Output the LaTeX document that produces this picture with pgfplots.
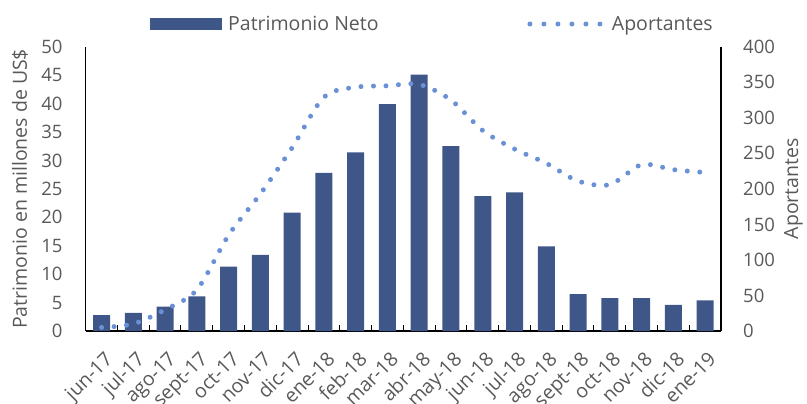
\documentclass[border=0pt]{standalone}
\usepackage{pgfplots}
\pgfplotsset{compat=1.18}
\usepackage{pgfplotstable}
\usepackage{fontspec}
\setmainfont{Open Sans}
\definecolor{barc}{HTML}{3F5689}
\definecolor{dotc}{HTML}{6A90D6}
\definecolor{txt}{HTML}{595959}
\pgfplotstableread{
x pn ap
0 2.8 5
1 3.2 10
2 4.3 30
3 6.1 58
4 11.3 135
5 13.4 193
6 20.8 258
7 27.8 329
8 31.4 343
9 39.9 345
10 45.1 347
11 32.5 325
12 23.7 282
13 24.4 256
14 14.9 236
15 6.5 211
16 5.8 206
17 5.8 234
18 4.6 227
19 5.4 223
}\data
\newcommand{\fs}{\fontsize{18.5bp}{20bp}\selectfont}
\newcommand{\fx}{\fontsize{19.5bp}{21bp}\selectfont}
\newcommand{\fl}{\fontsize{19.5bp}{22bp}\selectfont}
\begin{document}
\begin{tikzpicture}
\useasboundingbox (-85.7bp,-73bp) rectangle (721.3bp,331bp);
\begin{axis}[
  at={(0,0)}, anchor=south west,
  scale only axis, width=635.3bp, height=284.3bp,
  xmin=-0.5, xmax=19.5, ymin=0, ymax=50,
  axis x line*=bottom, axis y line*=left,
  axis line style={black, line width=1.2bp, -},
  xtick={0,...,19},
  xticklabels={jun-17,jul-17,ago-17,sept-17,oct-17,nov-17,dic-17,ene-18,feb-18,mar-18,abr-18,may-18,jun-18,jul-18,ago-18,sept-18,oct-18,nov-18,dic-18,ene-19},
  minor xtick={-0.5,0.5,...,19.5},
  major tick length=0pt, minor tick length=6bp,
  minor tick style={black, line width=1bp},
  tick align=inside,
  ytick={0,5,...,50},
  /pgf/number format/assume math mode=true,
  tick label style={font=\fs, text=txt},
  yticklabel style={anchor=east, inner sep=0pt, xshift=-23bp},
  xticklabel style={font=\fx, xshift=2bp, yshift=-19bp, rotate=45, anchor=north east, inner sep=0pt},
  ylabel={Patrimonio en millones de US\$},
  every axis y label/.style={at={(axis description cs:-0.1035,0.5)}, rotate=90, anchor=center, font=\fl, text=txt},
  legend style={at={(axis description cs:0.1013,1.0798)}, anchor=west, draw=none, fill=none, inner sep=0pt, font=\fl, text=txt, cells={anchor=west}},
  legend image code/.code={\fill[barc] (0bp,-6bp) rectangle (72bp,6bp); \path (76bp,0);},
]
\addplot[ybar, bar width=17bp, fill=barc, draw=none] table[x=x,y=pn]{\data};
\addlegendentry{Patrimonio Neto}
\end{axis}
\begin{axis}[
  at={(0,0)}, anchor=south west,
  scale only axis, width=635.3bp, height=284.3bp,
  xmin=-0.5, xmax=19.5, ymin=0, ymax=400,
  axis y line*=right, axis x line=none,
  axis line style={black, line width=1.2bp, -},
  ytick={0,50,...,400},
  major tick length=0pt,
  /pgf/number format/assume math mode=true,
  tick label style={font=\fs, text=txt},
  yticklabel style={anchor=west, inner sep=0pt, xshift=22bp},
  ylabel={Aportantes},
  every axis y label/.style={at={(axis description cs:1.1139,0.5)}, rotate=90, anchor=center, font=\fl, text=txt},
  legend style={at={(axis description cs:0.695,1.0798)}, anchor=west, draw=none, fill=none, inner sep=0pt, font=\fl, text=txt, cells={anchor=west}},
  legend image code/.code={\draw[dotc, line width=5bp, line cap=round, dash pattern=on 0pt off 14bp] (2.5bp,0) -- (74bp,0); \path (80bp,0);},
]
\addplot[dotc, line width=5bp, line cap=round, dash pattern=on 0pt off 12.5bp, smooth] table[x=x,y=ap]{\data};
\addlegendentry{Aportantes}
\end{axis}
\end{tikzpicture}
\end{document}
